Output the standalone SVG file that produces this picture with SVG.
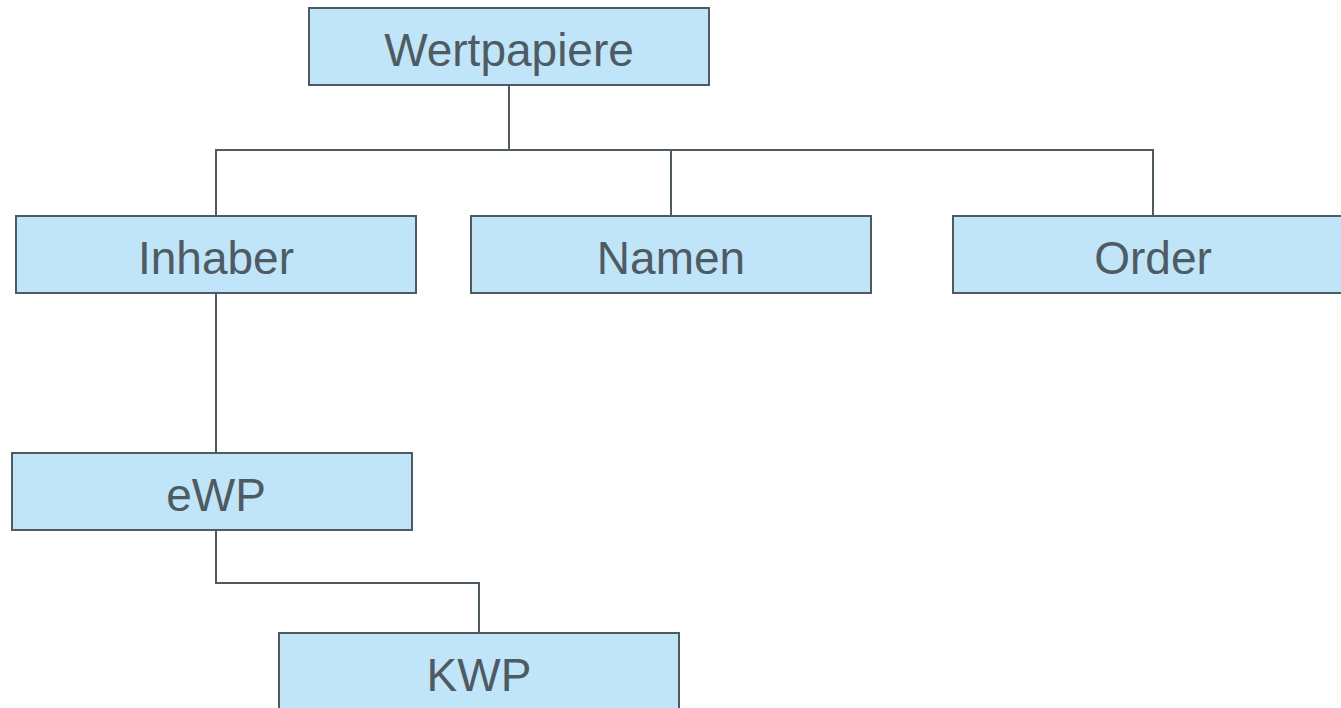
<svg xmlns="http://www.w3.org/2000/svg" width="1341" height="708" viewBox="0 0 1341 708">
<style>
.box{fill:#c0e4f8;stroke:#4f5b62;stroke-width:2}
.lbl{font-family:"Liberation Sans",Arial,sans-serif;font-size:46px;fill:#4f5b62;text-anchor:middle}
.conn{fill:none;stroke:#4f5b62;stroke-width:2}
</style>
<rect width="1341" height="708" fill="#ffffff"/>
<g id="connectors">
<path class="conn" d="M509 85V150M216 216V150H1153V216M671 150V216"/>
<path class="conn" d="M216 293V453"/>
<path class="conn" d="M216 530V583H479V633"/>
</g>
<g id="wertpapiere"><rect class="box" x="309" y="8" width="400" height="77"/><text class="lbl" x="509" y="66">Wertpapiere</text></g>
<g id="inhaber"><rect class="box" x="16" y="216" width="400" height="77"/><text class="lbl" x="216" y="274">Inhaber</text></g>
<g id="namen"><rect class="box" x="471" y="216" width="400" height="77"/><text class="lbl" x="671" y="274">Namen</text></g>
<g id="order"><rect class="box" x="953" y="216" width="400" height="77"/><text class="lbl" x="1153" y="274">Order</text></g>
<g id="ewp"><rect class="box" x="12" y="453" width="400" height="77"/><text class="lbl" x="216" y="511">eWP</text></g>
<g id="kwp"><rect class="box" x="279" y="633" width="400" height="77"/><text class="lbl" x="479" y="691">KWP</text></g>
</svg>
